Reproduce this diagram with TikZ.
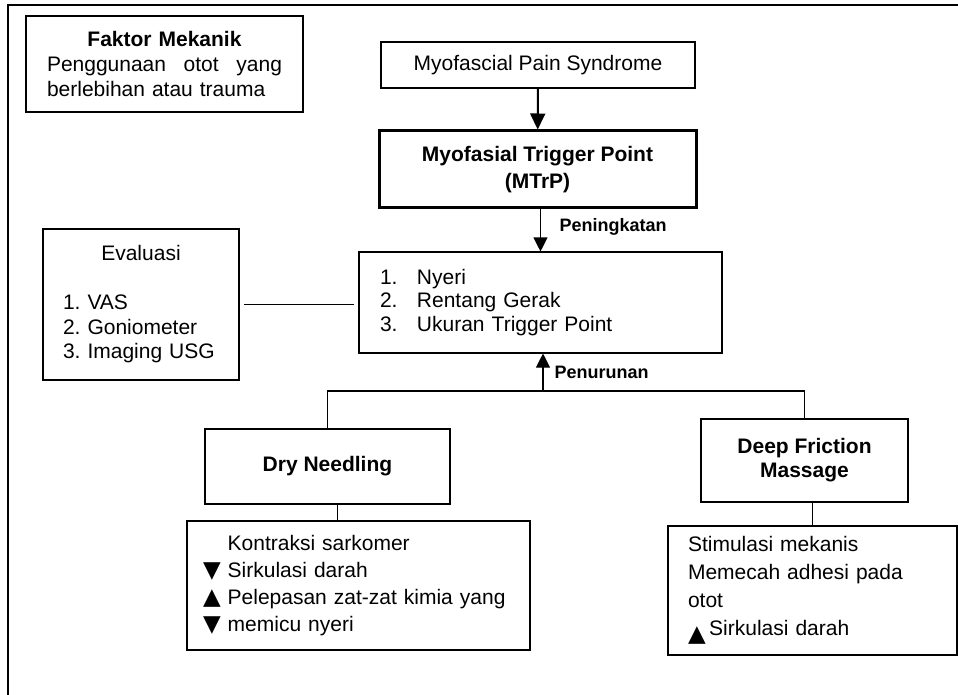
\documentclass[tikz,border=0pt]{standalone}
\usepackage{fontspec}
\setmainfont{Liberation Sans}
\newfontfamily\trifont{DejaVu Sans}
\usepackage{tikz}
\usetikzlibrary{positioning,arrows.meta}
\frenchspacing
\newcommand{\turun}{{\trifont\fontsize{23}{23}\selectfont ▼}}
\newcommand{\naik}{{\trifont\fontsize{23}{23}\selectfont ▲}}

\begin{document}
\begin{tikzpicture}[x=1pt, y=-1pt,
    box/.style={draw, rectangle, line width=1.1pt, inner sep=0pt, align=center, font=\fontsize{21}{25}\selectfont},
    tag/.style={font=\fontsize{18}{20}\selectfont\bfseries, inner sep=2pt},
    link/.style={line width=1.1pt},
    >={Triangle[width=14pt,length=14pt]}]

    \useasboundingbox (0,0) rectangle (958,695);
    \draw[line width=1.8pt] (8,695) -- (8,5) -- (958,5); % frame

    \node[box, minimum width=277pt, minimum height=96pt, text width=235pt, align=left] (faktor) at (164.5,64) {{\centering\bfseries Faktor Mekanik\par}Penggunaan\hfill otot\hfill yang\\berlebihan atau trauma};
    \node[box, minimum width=314pt, minimum height=46pt] (mps) at (538,65) {Myofascial Pain Syndrome};
    \node[box, line width=3pt, minimum width=317pt, minimum height=77pt, font=\fontsize{21}{27}\selectfont\bfseries] (mtrp) at (537.5,169.5) {Myofasial Trigger Point\\(MTrP)};
    \node[box, minimum width=363pt, minimum height=101pt, text width=321pt, align=left, font=\fontsize{21}{23.5}\selectfont] (gejala) at (540.5,302.5) {\makebox[37pt][l]{1.}Nyeri\\\makebox[37pt][l]{2.}Rentang Gerak\\\makebox[37pt][l]{3.}Ukuran Trigger Point};
    \node[box, minimum width=196pt, minimum height=151pt, text width=156pt, align=left, font=\fontsize{21}{24.5}\selectfont] (evaluasi) at (141,304.5) {{\centering Evaluasi\par}\vspace{24.5pt}1. VAS\\2. Goniometer\\3. Imaging USG};

    \node[box, minimum width=245pt, minimum height=75pt, font=\fontsize{21}{25}\selectfont\bfseries] (dn) at (327.5,466.5) {Dry Needling};
    \node[box, minimum width=207pt, minimum height=83pt, font=\fontsize{21}{24}\selectfont\bfseries] (dfm) at (804.5,460.5) {Deep Friction\\Massage};
    \node[box, minimum width=343pt, minimum height=129pt, text width=311pt, align=left, font=\fontsize{21}{27}\selectfont] (dnsub) at (358.5,585.5) {\phantom{\turun} Kontraksi sarkomer\\\turun\ Sirkulasi darah\\\naik\ Pelepasan zat-zat kimia yang\\\turun\ memicu nyeri};
    \node[box, minimum width=289pt, minimum height=129pt, text width=249pt, align=left, font=\fontsize{21}{28}\selectfont] (dfmsub) at (812.5,590.5) {Stimulasi mekanis\\Memecah adhesi pada\\otot\\\raisebox{-6pt}{\naik}\,Sirkulasi darah};

    \coordinate (cabang) at (543,391);

    \draw[line width=2pt, -{Triangle[width=15pt,length=16pt]}] (mps) -- (mtrp);
    \draw[link, ->] (mtrp.south -| gejala.north) -- (gejala.north) node[tag, midway, right=16.5pt, yshift=4pt] (naiklbl) {Peningkatan};
    \draw[link] (dn.north) |- (cabang) -| (dfm.north);
    \draw[link, ->] (cabang) -- (cabang |- gejala.south) node[tag, midway, right=9pt] (turunlbl) {Penurunan};
    \draw[link, shorten <=4pt, shorten >=4pt] (evaluasi.east) -- (evaluasi.east -| gejala.west);
    \draw[link] ([xshift=10pt]dn.south) -- ([xshift=10pt]dn.south |- dnsub.north);
    \draw[link] (dfmsub.north) -- (dfmsub.north |- dfm.south);

\end{tikzpicture}
\end{document}
